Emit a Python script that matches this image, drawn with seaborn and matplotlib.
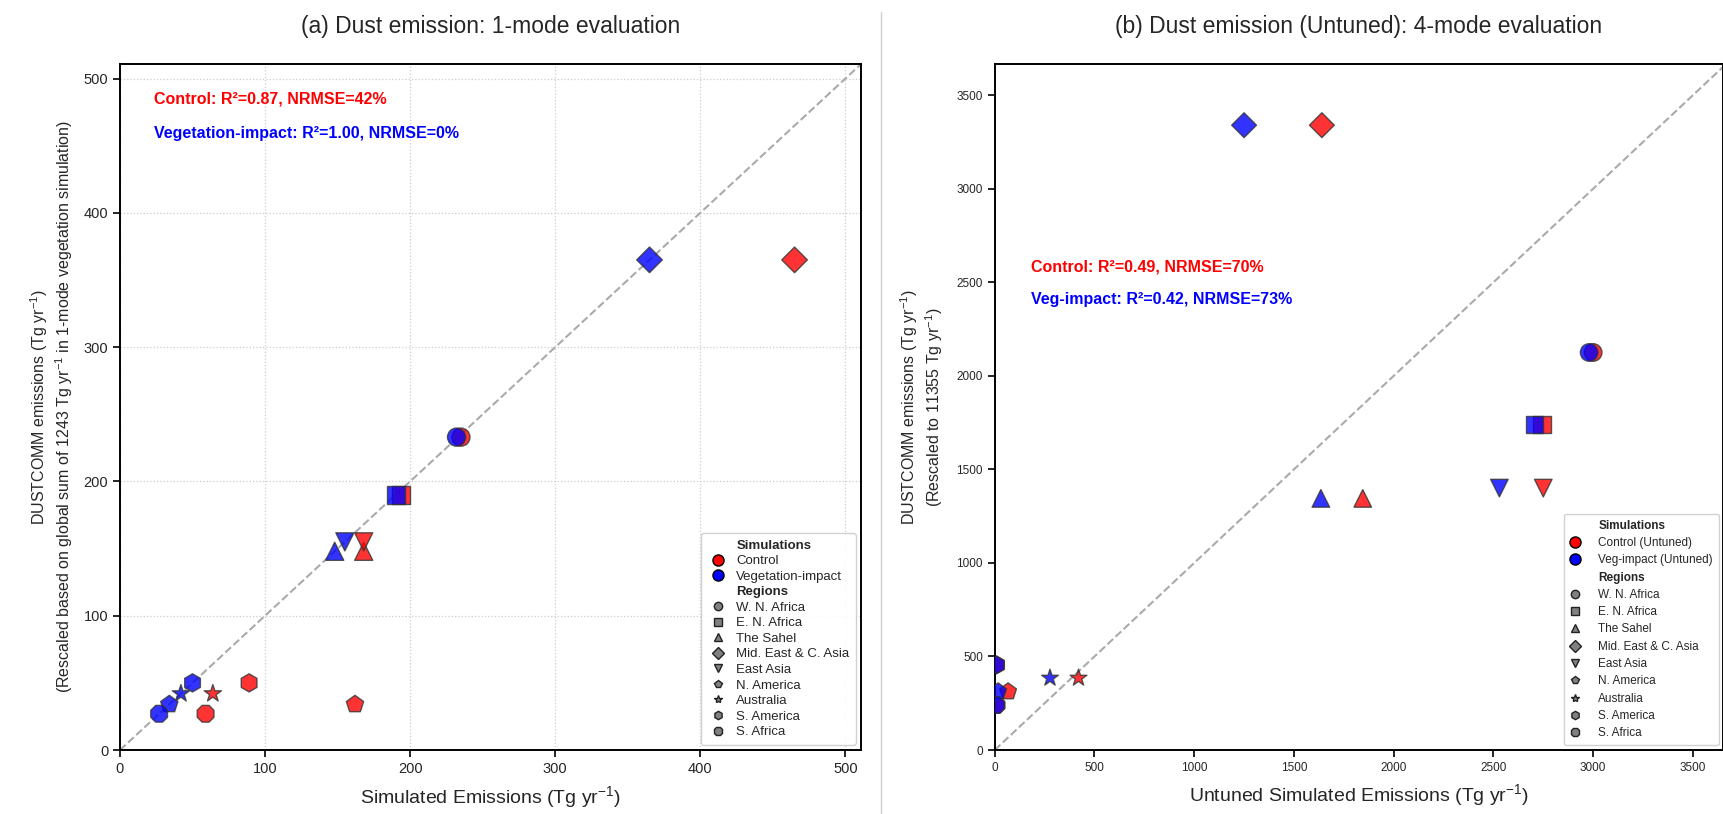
import numpy as np
import pandas as pd
import seaborn as sns
import matplotlib.pyplot as plt
from matplotlib.lines import Line2D

# ---------------- data ----------------
regions = ['W. N. Africa', 'E. N. Africa', 'The Sahel', 'Mid. East & C. Asia', 'East Asia',
           'N. America', 'Australia', 'S. America', 'S. Africa']
region_markers = ['o', 's', '^', 'D', 'v', 'p', '*', 'h', '8']

# (a) 1-mode evaluation
dustcomm_a = [233, 190, 148, 365, 155, 34, 42, 50, 27]
control_a = [235, 194, 168, 465, 168, 162, 64, 89, 59]
veg_a = [232, 190, 148, 365, 155, 34, 42, 50, 27]

# (b) 4-mode evaluation (untuned)
dustcomm_b = [2125, 1740, 1345, 3340, 1400, 312, 385, 455, 240]
control_b = [3000, 2745, 1845, 1640, 2750, 67, 420, 10, 10]
veg_b = [2980, 2705, 1635, 1250, 2530, 17, 277, 8, 8]

ticks_a = [0, 100, 200, 300, 400, 500]
ticks_b = [0, 500, 1000, 1500, 2000, 2500, 3000, 3500]

stats_a = ['Control: R²=0.87, NRMSE=42%', 'Vegetation-impact: R²=1.00, NRMSE=0%']
stats_b = ['Control: R²=0.49, NRMSE=70%', 'Veg-impact: R²=0.42, NRMSE=73%']

sns.set_theme(style='ticks')
plt.rcParams['font.family'] = ['Liberation Sans', 'DejaVu Sans']
plt.rcParams['mathtext.fontset'] = 'custom'
plt.rcParams['mathtext.rm'] = 'Liberation Sans'
plt.rcParams['mathtext.it'] = 'Liberation Sans:italic'
plt.rcParams['mathtext.bf'] = 'Liberation Sans:bold'

sim_colors = {'Control': 'red', 'Veg': 'blue'}
marker_map = dict(zip(regions, region_markers))


def make_df(ctrl, veg, obs):
    rows = []
    for sim, xs in (('Control', ctrl), ('Veg', veg)):
        for r, xv, yv in zip(regions, xs, obs):
            rows.append({'sim': sim, 'region': r, 'model': xv, 'obs': yv})
    return pd.DataFrame(rows)


def add_legend(ax, sim_labels, fs, spacing, hlen, hpad, **kw):
    handles = [Line2D([], [], linestyle='none', label='Simulations')]
    for lab, c in zip(sim_labels, ['red', 'blue']):
        handles.append(Line2D([], [], marker='o', linestyle='none', markerfacecolor=c,
                              markeredgecolor='black', markersize=8, label=lab))
    handles.append(Line2D([], [], linestyle='none', label='Regions'))
    for r, m in zip(regions, region_markers):
        handles.append(Line2D([], [], marker=m, linestyle='none', markerfacecolor='gray',
                              markeredgecolor='#222222', markersize=6, label=r))
    leg = ax.legend(handles=handles, fontsize=fs, labelspacing=spacing, handlelength=hlen,
                    handletextpad=hpad, borderpad=0.5, frameon=True, fancybox=True,
                    framealpha=0.9, edgecolor='#cccccc', **kw)
    for t in leg.get_texts():
        if t.get_text() in ('Simulations', 'Regions'):
            t.set_fontweight('bold')
    return leg


fig = plt.figure(figsize=(17.24, 8.14), dpi=100)
ax1 = fig.add_axes([0.0696, 0.0786, 0.430, 0.843])
ax2 = fig.add_axes([0.577, 0.0786, 0.4223, 0.843])

# ---------------- panel (a) ----------------
df_a = make_df(control_a, veg_a, dustcomm_a)
ax1.axline((0, 0), slope=1, color='#aaaaaa', linestyle='--', linewidth=1.5, zorder=1)
sns.scatterplot(data=df_a, x='model', y='obs', hue='sim', style='region', markers=marker_map,
                palette=sim_colors, s=170, alpha=0.8, edgecolor='#333333', linewidth=1,
                legend=False, ax=ax1, zorder=3)
ax1.set_xlim(0, 511)
ax1.set_ylim(0, 511)
ax1.set_xticks(ticks_a)
ax1.set_yticks(ticks_a)
ax1.grid(True, linestyle=':', color='#cccccc', linewidth=0.9)
ax1.set_axisbelow(True)
ax1.tick_params(labelsize=10.5, length=5, width=1.2, color='black')
ax1.set_xlabel('Simulated Emissions (Tg yr$^{-1}$)', fontsize=14, labelpad=6)
ax1.set_ylabel('DUSTCOMM emissions (Tg yr$^{-1}$)\n(Rescaled based on global sum of 1243 Tg yr$^{-1}$ '
               'in 1-mode vegetation simulation)', fontsize=11.5, labelpad=6)
ax1.set_title('(a) Dust emission: 1-mode evaluation', fontsize=16.5, pad=22)
ax1.text(0.046, 0.949, stats_a[0], transform=ax1.transAxes, color='red', fontsize=11.5,
         fontweight='bold', va='center')
ax1.text(0.046, 0.898, stats_a[1], transform=ax1.transAxes, color='blue', fontsize=11.5,
         fontweight='bold', va='center')
add_legend(ax1, ['Control', 'Vegetation-impact'], 9.5, 0.25, 1.6, 0.6, loc='lower right',
           borderaxespad=0.4)

# ---------------- panel (b) ----------------
df_b = make_df(control_b, veg_b, dustcomm_b)
ax2.axline((0, 0), slope=1, color='#aaaaaa', linestyle='--', linewidth=1.5, zorder=1)
sns.scatterplot(data=df_b, x='model', y='obs', hue='sim', style='region', markers=marker_map,
                palette=sim_colors, s=160, alpha=0.8, edgecolor='#333333', linewidth=1,
                legend=False, ax=ax2, zorder=3)
ax2.set_xlim(0, 3650)
ax2.set_ylim(0, 3668)
ax2.set_xticks(ticks_b)
ax2.set_yticks(ticks_b)
ax2.tick_params(labelsize=8.5, length=5, width=1.2, color='black')
ax2.set_xlabel('Untuned Simulated Emissions (Tg yr$^{-1}$)', fontsize=14, labelpad=6)
ax2.set_ylabel('DUSTCOMM emissions (Tg yr$^{-1}$)\n(Rescaled to 11355 Tg yr$^{-1}$)',
               fontsize=11.5, labelpad=8)
ax2.set_title('(b) Dust emission (Untuned): 4-mode evaluation', fontsize=16.5, pad=22)
ax2.text(0.05, 0.704, stats_b[0], transform=ax2.transAxes, color='red', fontsize=11.5,
         fontweight='bold', va='center')
ax2.text(0.05, 0.656, stats_b[1], transform=ax2.transAxes, color='blue', fontsize=11.5,
         fontweight='bold', va='center')
add_legend(ax2, ['Control (Untuned)', 'Veg-impact (Untuned)'], 8.5, 0.45, 0.8, 1.6,
           loc='lower left', bbox_to_anchor=(0.782, 0.007), borderaxespad=0)

for ax in (ax1, ax2):
    for sp in ax.spines.values():
        sp.set_color('black')
        sp.set_linewidth(1.4)

# thin separator between the two panels
fig.add_artist(Line2D([0.511, 0.511], [0.0, 0.985], transform=fig.transFigure,
                      color='#cccccc', linewidth=1))

fig.savefig('out.png', dpi=100)
